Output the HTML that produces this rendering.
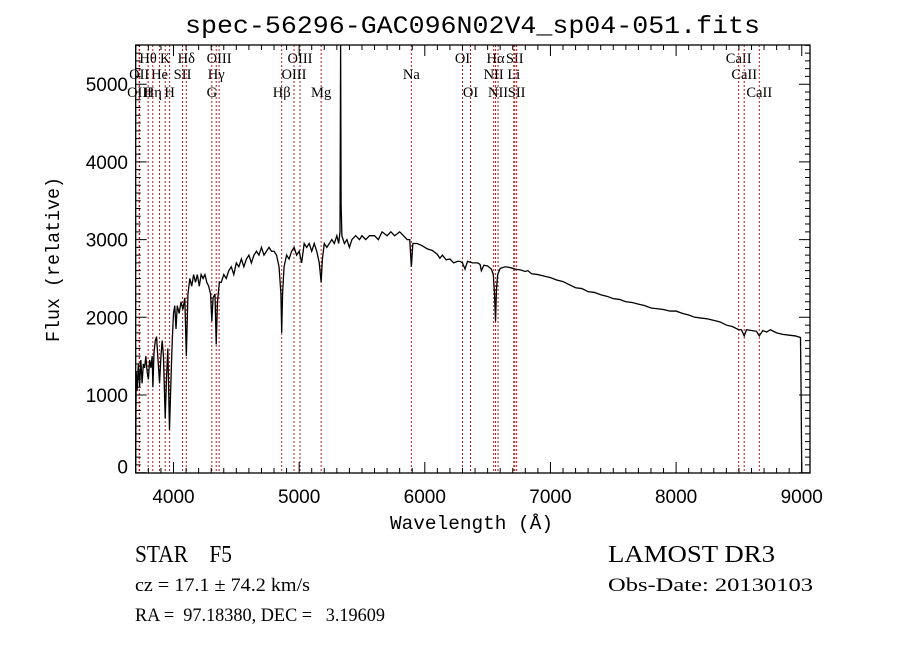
<!DOCTYPE html>
<html><head><meta charset="utf-8"><style>
html,body{margin:0;padding:0;background:#fff;}
svg{display:block;}
svg text{white-space:pre;}
</style></head><body>
<svg id="chart" width="900" height="649" viewBox="0 0 900 649" xmlns="http://www.w3.org/2000/svg">
<rect x="0" y="0" width="900" height="649" fill="#fff"/>
<text x="185" y="33" font-family="Liberation Mono, monospace" font-size="25" textLength="575" lengthAdjust="spacingAndGlyphs" fill="#000">spec-56296-GAC096N02V4_sp04-051.fits</text>
<g id="lines"></g>
<g id="series"></g>
<g id="axes"></g>
<text x="390" y="529" font-family="Liberation Mono, monospace" font-size="19" textLength="163" lengthAdjust="spacingAndGlyphs">Wavelength (Å)</text>
<text transform="translate(59,342) rotate(-90)" font-family="Liberation Mono, monospace" font-size="19" textLength="165" lengthAdjust="spacingAndGlyphs">Flux (relative)</text>
<text x="135" y="562" font-family="Liberation Serif, serif" font-size="24" textLength="97" lengthAdjust="spacingAndGlyphs">STAR    F5</text>
<text x="135" y="591" font-family="Liberation Serif, serif" font-size="19" textLength="175" lengthAdjust="spacingAndGlyphs">cz = 17.1 ± 74.2 km/s</text>
<text x="135" y="621" font-family="Liberation Serif, serif" font-size="19" textLength="250" lengthAdjust="spacingAndGlyphs">RA =  97.18380, DEC =   3.19609</text>
<text x="608" y="562" font-family="Liberation Serif, serif" font-size="24" textLength="167" lengthAdjust="spacingAndGlyphs">LAMOST DR3</text>
<text x="608" y="591" font-family="Liberation Serif, serif" font-size="19" textLength="205" lengthAdjust="spacingAndGlyphs">Obs-Date: 20130103</text>
</svg>
<script>
const wavelengths = [3699,3703,3710,3720,3730,3740,3750,3760,3770,3780,3790,3800,3810,3820,3830,3836,3845,3855,3865,3875,3889,3900,3910,3920,3934,3945,3955,3968,3980,3990,4000,4010,4020,4030,4045,4060,4075,4090,4102,4115,4130,4145,4160,4175,4190,4205,4220,4235,4250,4265,4280,4295,4305,4315,4330,4340,4350,4365,4380,4400,4420,4440,4460,4480,4500,4520,4540,4560,4580,4600,4620,4640,4660,4680,4700,4720,4740,4760,4780,4800,4820,4840,4855,4861,4868,4880,4900,4920,4940,4960,4980,5000,5020,5040,5060,5080,5100,5120,5140,5160,5175,5185,5200,5220,5240,5260,5280,5300,5315,5325,5330,5334,5340,5360,5380,5400,5420,5450,5480,5500,5530,5560,5600,5630,5660,5700,5730,5760,5800,5830,5860,5880,5893,5905,5940,5980,6020,6060,6100,6120,6140,6170,6200,6230,6260,6280,6300,6320,6340,6380,6420,6440,6450,6470,6500,6530,6545,6555,6563,6570,6580,6600,6640,6680,6720,6760,6800,6820,6850,6900,6950,7000,7050,7100,7150,7200,7250,7300,7350,7400,7450,7500,7550,7600,7650,7700,7750,7800,7850,7900,7950,8000,8050,8100,8150,8200,8250,8300,8350,8400,8450,8498,8520,8542,8560,8600,8640,8662,8690,8720,8750,8800,8850,8900,8950,8990,8995,9000];
const fluxes = [100,1300,1050,1400,1100,1450,1150,1400,1350,1500,1300,1200,1450,1350,1500,1100,1550,1700,1750,1500,1150,1500,1700,1500,700,1250,1600,550,1200,1700,2050,2150,1850,2150,2050,2200,2100,2250,1500,2300,2500,2400,2550,2450,2550,2400,2550,2500,2550,2450,2400,2300,1950,2250,2300,1650,2200,2450,2450,2550,2500,2600,2650,2550,2700,2650,2750,2650,2750,2800,2700,2800,2850,2800,2900,2800,2850,2900,2850,2850,2800,2650,2300,1800,2300,2650,2800,2750,2850,2900,2800,2850,2700,2950,2900,2950,2850,2950,2850,2700,2450,2750,2950,2900,2950,3000,2950,3050,2950,3100,5600,3450,3050,2950,3000,2900,3000,3050,3000,3050,3000,3050,3050,3000,3100,3050,3100,3050,3100,3050,3000,3000,2650,2950,2950,2920,2880,2860,2810,2760,2800,2740,2750,2700,2720,2720,2700,2620,2720,2700,2700,2680,2600,2670,2660,2620,2550,2300,1950,2350,2550,2630,2650,2640,2620,2610,2590,2600,2560,2550,2530,2510,2480,2460,2420,2380,2370,2330,2320,2290,2270,2240,2230,2200,2190,2170,2150,2120,2110,2100,2080,2080,2050,2030,2000,1990,1980,1960,1940,1900,1880,1840,1840,1760,1840,1830,1820,1760,1830,1810,1840,1800,1780,1770,1760,1740,1000,0];
const lineWaves = [3798,3934,4102,4363,5007,6300,6563,6716,8498,3727,3889,4072,4340,4959,5893,6548,6708,8542,3730,3835,3969,4305,4861,5175,6364,6583,6731,8662];
const lineLabels = ["Hθ","K","Hδ","OIII","OIII","OI","Hα","SII","CaII","OII","He","SII","Hγ","OIII","Na","NII","Li","CaII","OIII","Hη","H","G","Hβ","Mg","OI","NII","SII","CaII"];
const lineRows = [0,0,0,0,0,0,0,0,0,1,1,1,1,1,1,1,1,1,2,2,2,2,2,2,2,2,2,2];
const xTicks = [4000,5000,6000,7000,8000,9000];
const yTicks = [0,1000,2000,3000,4000,5000];

const L=135.7,R=810,T=45,B=473;
const X0=4000,XP0=173.5,XS=0.12565;
const YP0=472.7,YS=0.0777;
function xs(w){return XP0+(w-X0)*XS;}
function ys(f){return Math.max(T,YP0-f*YS);}
const NS='http://www.w3.org/2000/svg';
function mk(tag,parent,attrs){const e=document.createElementNS(NS,tag);for(const k in attrs)e.setAttribute(k,attrs[k]);parent.appendChild(e);return e;}

const lg=document.getElementById('lines');
const rowY=[63,79,97];
lineWaves.forEach((w,i)=>{
  const x=xs(w);
  const ln=mk('line',lg,{x1:x,y1:T,x2:x,y2:B,stroke:'#b31b1b','stroke-width':1,'stroke-dasharray':'2,2'});
  
  
  const t=mk('text',lg,{x:x,y:rowY[lineRows[i]],'font-family':'Liberation Serif, serif','font-size':14.5,'text-anchor':'middle',fill:'#000'});
  t.textContent=lineLabels[i];
  
  
});

const sg=document.getElementById('series');
let d='';
wavelengths.forEach((w,i)=>{d+=(i?'L':'M')+xs(w).toFixed(2)+','+ys(fluxes[i]).toFixed(2);});
const p=mk('path',sg,{d:d,fill:'none',stroke:'#000','stroke-width':1.3,'stroke-linejoin':'miter'});



const ag=document.getElementById('axes');
const fr=mk('rect',ag,{x:L,y:T,width:R-L,height:B-T,fill:'none',stroke:'#000','stroke-width':1.3});


let td='';
for(let w=3700;w<=9060;w+=100){const x=xs(w);if(x<L||x>R)continue;const len=(w%1000===0)?11:5;td+=`M${x},${B}v${-len}M${x},${T}v${len}`;}
for(let f=0;f<=5500;f+=100){const y=YP0-f*YS;if(y<T)continue;const len=(f%1000===0)?11:5;td+=`M${L},${y}h${len}M${R},${y}h${-len}`;}
const tk=mk('path',ag,{d:td,stroke:'#000','stroke-width':1,fill:'none'});


xTicks.forEach(v=>{const t=mk('text',ag,{x:xs(v),y:503,'text-anchor':'middle','font-family':'Liberation Sans, sans-serif','font-size':19});t.textContent=v;

});
yTicks.forEach(v=>{const t=mk('text',ag,{x:128,y:YP0-v*YS+7-(v===0?6:0),'text-anchor':'end','font-family':'Liberation Sans, sans-serif','font-size':19});t.textContent=v;

});
</script>
</body></html>
